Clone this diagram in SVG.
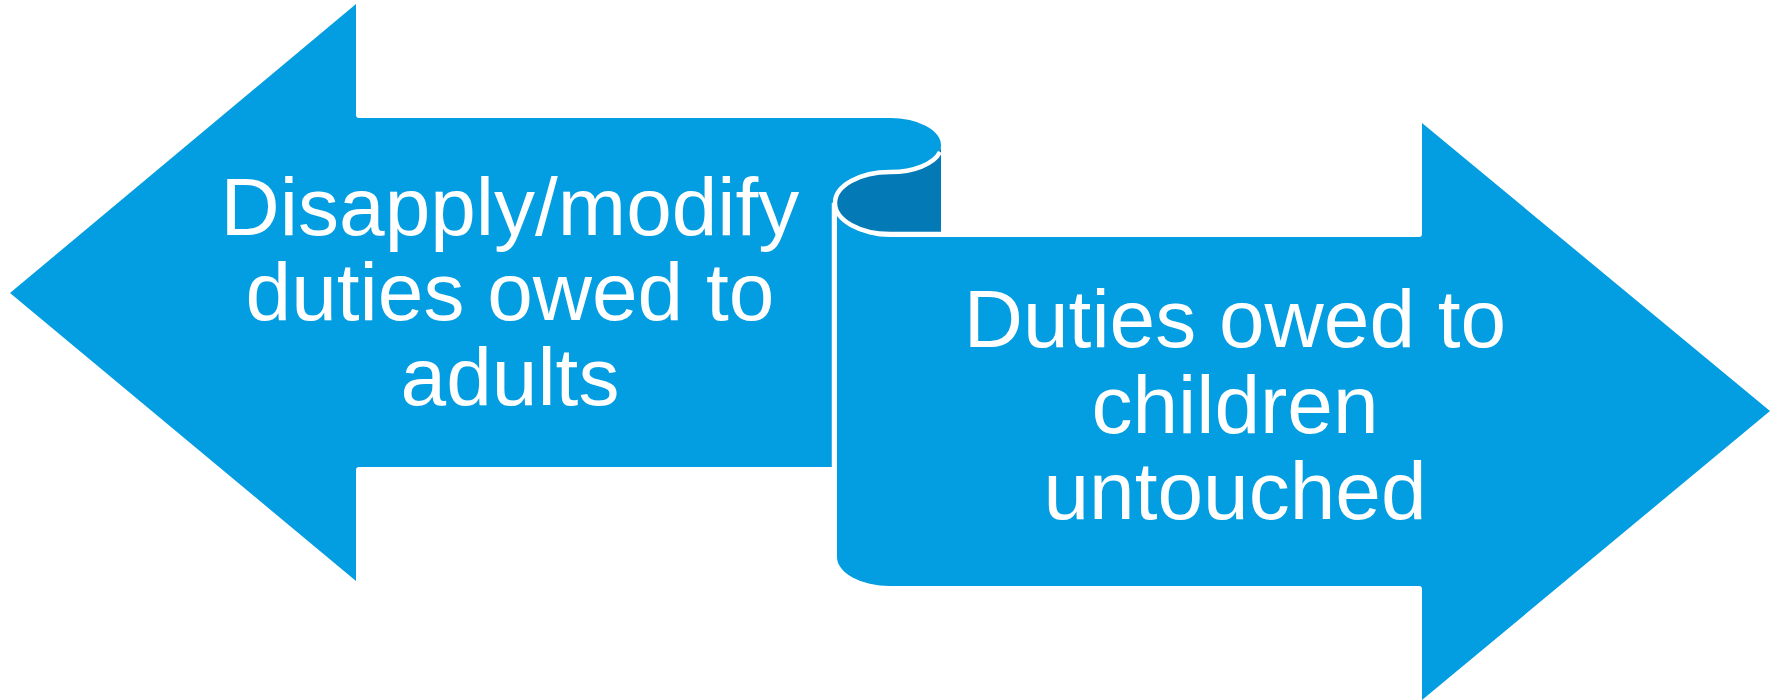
<svg xmlns="http://www.w3.org/2000/svg" width="1779" height="700" viewBox="0 0 1779 700">
  <defs>
    <style>
      .arrow { fill: #039DE1; }
      .fold { fill: #037AB6; }
      .edge { fill: none; stroke: #FFFFFF; stroke-width: 4.5; }
      .label { fill: #FFFFFF; font-family: "Liberation Sans", Arial, sans-serif; font-size: 82px; text-anchor: middle; }
    </style>
  </defs>
  <rect width="1779" height="700" fill="#FFFFFF"/>

  <!-- left-pointing arrow, its shaft ends in the upper curl -->
  <g id="node-adults">
    <path class="arrow" d="M 10,293 L 356,4 L 356,115 Q 356,118 359,118 L 890,118 A 51,27 0 0 1 941,145 A 51,27 0 0 1 890,172 A 55,31 0 0 0 835,203 L 832,203 L 832,467 L 359,467 Q 356,467 356,470 L 356,581 Z"/>
    <text class="label" x="510" y="235">Disapply/modify</text>
    <text class="label" x="510" y="320">duties owed to</text>
    <text class="label" x="510" y="405">adults</text>
  </g>

  <!-- right-pointing arrow, its shaft starts from the lower curl -->
  <g id="node-children">
    <path class="arrow" d="M 890,237 L 1419,237 Q 1422,237 1422,234 L 1422,123 L 1770,411 L 1422,700 L 1422,589 Q 1422,586 1419,586 L 890,586 A 53,29 0 0 1 837,557 L 837,203 A 53,34 0 0 0 890,237 Z"/>
    <text class="label" x="1235" y="347">Duties owed to</text>
    <text class="label" x="1235" y="433">children</text>
    <text class="label" x="1235" y="519">untouched</text>
  </g>

  <!-- inside of the scroll fold -->
  <g id="fold">
    <path class="fold" d="M 835,203 A 55,31 0 0 1 890,172 A 51,27 0 0 0 941,145 L 941,234 L 890,234 A 55,31 0 0 1 835,203 Z"/>
    <path class="edge" d="M 940,152 A 51,27 0 0 1 890,172 A 55,31 0 0 0 835,203 A 55,31 0 0 0 890,234 L 941,234"/>
    <path class="edge" d="M 834,203 L 834,467"/>
  </g>
</svg>
